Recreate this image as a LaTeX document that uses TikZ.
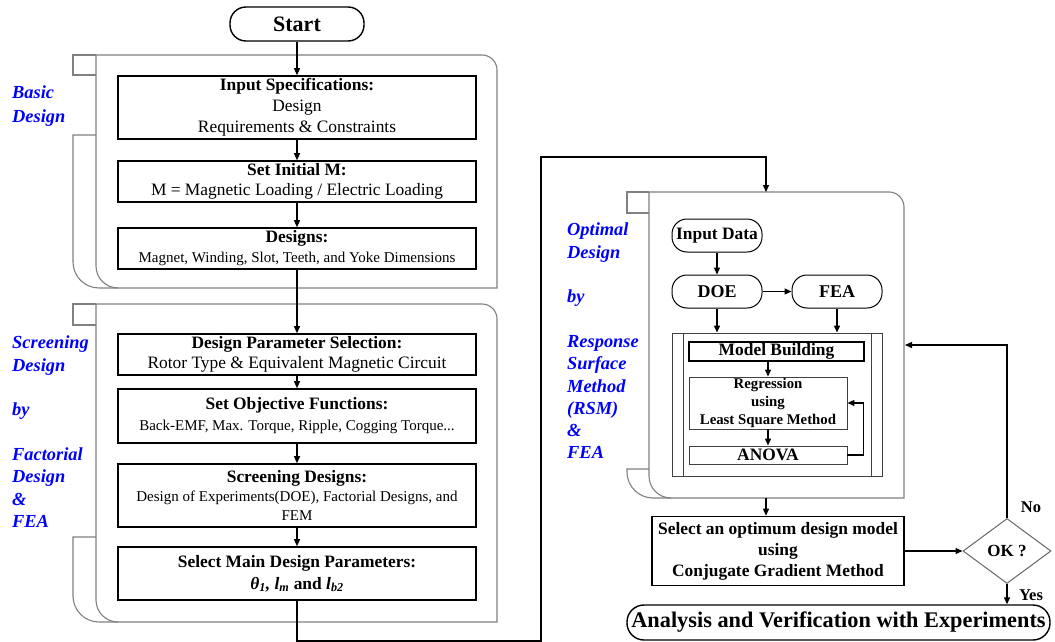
\documentclass[tikz,border=0pt]{standalone}
\usepackage{fontspec}
\setmainfont{Liberation Serif}
\usetikzlibrary{arrows.meta,shapes.geometric}

\tikzset{
  box/.style = {draw, line width=1.6pt, fill=white, align=center, inner sep=1pt},
  thinbox/.style = {draw = black!75, line width=0.9pt, fill=white, align=center, inner sep=1pt},
  term/.style = {draw, line width=1.4pt, rounded corners=16pt, fill=white, align=center, inner sep=1pt},
  panel/.style = {draw = black!50, line width=1.1pt},
  lbl/.style = {text=blue, font=\fontsize{18.4}{22.3}\selectfont\bfseries\itshape, align=left, anchor=north west, inner sep=0pt},
  arr/.style = {-{Triangle[length=7pt,width=6pt]}, line width=1.3pt},
  ln/.style = {line width=1.3pt}
}
% scroll-like frame: outer x, inner x, right x, top, tab bottom, outer start, bottom
\newcommand{\scrollpanel}[7]{
  \draw[panel] (#2,#4) -- (#1,#4) -- (#1,#5) -- (#2,#5);
  \draw[panel] (#2,#4) -- (#3-15,#4) arc[start angle=-90, end angle=0, radius=15]
    -- (#3,#7) -- (#2+22,#7) arc[start angle=90, end angle=180, radius=22] -- cycle;
  \draw[panel] (#2,#6) -- (#1,#6) -- (#1,#7-26) arc[start angle=180, end angle=90, radius=26] -- (#2+22,#7);
}
\newcommand{\ttl}[1]{{\fontsize{17.4}{20}\selectfont\textbf{#1}}}

\begin{document}
\begin{tikzpicture}[x = 1pt, y = -1pt]
\useasboundingbox (0,0) rectangle (1055,642);

% frames
\scrollpanel{73}{96}{497}{55}{75}{135}{288}
\scrollpanel{73}{96}{497}{304}{325}{537}{622}
\scrollpanel{627}{649}{904}{192}{213}{469}{498}

% side labels
\node[lbl, font=\fontsize{18.4}{24}\selectfont\bfseries\itshape] (lbasic) at (12,86) {Basic\\Design};
\node[lbl] (lscreen) at (12,336) {Screening\\Design\\[22.3pt]by\\[22.3pt]Factorial\\Design\\\&\\FEA};
\node[lbl] (lopt) at (567,223) {Optimal\\Design\\[22.3pt]by\\[22.3pt]Response\\Surface\\Method\\(RSM)\\\&\\FEA};

% left column
\node[term, minimum width=134pt, minimum height=34pt, font=\fontsize{22}{24}\selectfont\bfseries] (start) at (297,24) {Start};
\node[box, minimum width=358pt, minimum height=63pt, font=\fontsize{17.4}{21}\selectfont] (spec) at (297,107.5)
  {\textbf{Input Specifications:}\\Design\\Requirements \& Constraints};
\node[box, minimum width=358pt, minimum height=41pt, font=\fontsize{17.4}{20}\selectfont] (initm) at (297,181.5)
  {\textbf{Set Initial M:}\\M = Magnetic Loading / Electric Loading};
\node[box, minimum width=358pt, minimum height=41pt, font=\fontsize{15}{20}\selectfont] (designs) at (297,248.5)
  {\ttl{Designs:}\\Magnet, Winding, Slot, Teeth, and Yoke Dimensions};
\node[box, minimum width=358pt, minimum height=41pt, font=\fontsize{17.4}{20}\selectfont] (dps) at (297,354.5)
  {\textbf{Design Parameter Selection:}\\Rotor Type \& Equivalent Magnetic Circuit};
\node[box, minimum width=358pt, minimum height=54pt, font=\fontsize{15}{21}\selectfont] (objf) at (297,416)
  {\ttl{Set Objective Functions:}\\Back-EMF, Max. Torque, Ripple, Cogging Torque...};
\node[box, minimum width=358pt, minimum height=63pt, font=\fontsize{15}{19}\selectfont] (scr) at (297,495.5)
  {\ttl{Screening Designs:}\\Design of Experiments(DOE), Factorial Designs, and\\FEM};
\node[box, minimum width=358pt, minimum height=53pt, font=\fontsize{17.4}{22}\selectfont\bfseries] (sel) at (297,573.5)
  {Select Main Design Parameters:\\\itshape θ\textsubscript{1}, l\textsubscript{m} \upshape and \itshape l\textsubscript{b2}};

\draw[arr] (start) -- (spec);
\draw[arr] (spec) -- (initm);
\draw[arr] (initm) -- (designs);
\draw[arr] (designs) -- (dps);
\draw[arr] (dps) -- (objf);
\draw[arr] (objf) -- (scr);
\draw[arr] (scr) -- (sel);

% route to the optimal design frame
\coordinate (opttop) at (766,192);
\draw[arr] (sel.south) -- (297,641) -- (541,641) -- (541,157) -| (opttop);

% optimal design frame
\node[term, line width=1pt, rounded corners=15pt, minimum width=90pt, minimum height=33pt, font=\fontsize{17.4}{20}\selectfont\bfseries] (indata) at (717,235.5) {Input Data};
\node[term, line width=1pt, rounded corners=15pt, minimum width=90pt, minimum height=33pt, font=\fontsize{18}{20}\selectfont\bfseries] (doe) at (717,291.5) {DOE};
\node[term, line width=1pt, rounded corners=15pt, minimum width=90pt, minimum height=33pt, font=\fontsize{18}{20}\selectfont\bfseries] (fea) at (837,291.5) {FEA};
\node[thinbox, minimum width=210pt, minimum height=143pt] (model) at (777,404.5) {};
\draw[draw=black!75, line width=0.9pt] (683,333) -- (683,476) (871,333) -- (871,476);
\node[box, line width=1.5pt, minimum width=175pt, minimum height=19pt, font=\fontsize{17.4}{18}\selectfont\bfseries] (mbuild) at (776.5,351.5) {Model Building};
\node[thinbox, minimum width=158pt, minimum height=52pt, font=\fontsize{14.8}{18}\selectfont\bfseries] (regr) at (768,403)
  {Regression\\using\\Least Square Method};
\node[thinbox, minimum width=158pt, minimum height=18pt, font=\fontsize{17.4}{18}\selectfont\bfseries] (anova) at (768,455) {ANOVA};

\draw[arr] (indata) -- (doe);
\draw[arr] (doe) -- (fea);
\draw[arr] (doe.south) -- (doe.south |- model.north);
\draw[arr] (fea.south) -- (fea.south |- model.north);
\draw[arr] (mbuild.south -| regr.north) -- (regr);
\draw[arr] (regr) -- (anova);
\draw[arr] (anova.east) -- ++(16,0) |- (regr.east);

% decision
\coordinate (optbot) at (766,498);
\coordinate (optright) at (905,345);
\node[box, minimum width=252pt, minimum height=69pt, font=\fontsize{17.4}{21}\selectfont\bfseries] (optsel) at (778,551)
  {Select an optimum design model\\using\\Conjugate Gradient Method};
\node[diamond, draw=black!60, line width=1pt, minimum width=88pt, minimum height=65pt, inner sep=0pt, aspect=1.35, font=\fontsize{17}{19}\selectfont\bfseries] (ok) at (1007,551) {OK ?};
\node[term, minimum width=423pt, minimum height=35pt, rounded corners=17pt, font=\fontsize{22.3}{24}\selectfont\bfseries] (ana) at (838.5,622.5) {Analysis and Verification with Experiments};

\draw[arr] (optbot) -- (optbot |- optsel.north);
\draw[arr] (optsel) -- (ok);
\draw[arr] (ok.north) |- (optright);
\draw[arr] (ok.south) -- (ok.south |- ana.north);
\node[font=\fontsize{16.5}{18}\selectfont\bfseries] (no) at (1031,507) {No};
\node[font=\fontsize{16.5}{18}\selectfont\bfseries] (yes) at (1031,595) {Yes};
\end{tikzpicture}
\end{document}
